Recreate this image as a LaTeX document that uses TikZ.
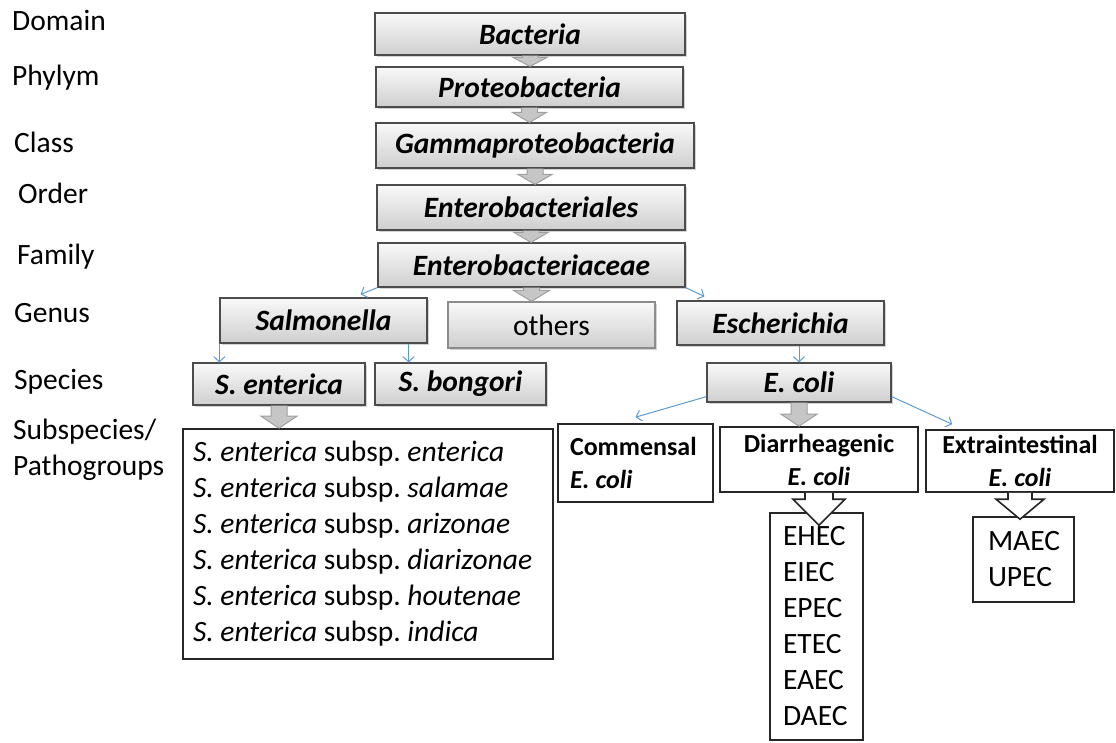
\documentclass[tikz,border=0pt]{standalone}
\usepackage{fontspec}
\setmainfont{Carlito}
\usetikzlibrary{shapes,arrows,arrows.meta,calc,shadows}
\definecolor{linkblue}{RGB}{91,155,213}
\newcommand{\lbl}{\fontsize{29.5}{36}\selectfont}
\newcommand{\sublbl}{\fontsize{26}{33}\selectfont}
\newcommand{\ecoli}{\textit{E.\hspace{0.23em}coli}}
\tikzstyle{rank} = [anchor=west, inner sep=0pt, align=left, font=\lbl]
\tikzstyle{taxon} = [draw=black!70, line width=1.2pt, rectangle, inner sep=0pt,
    top color=gray!5, bottom color=gray!38,
    drop shadow={shadow xshift=2pt, shadow yshift=-2pt, opacity=0.35},
    font=\lbl\bfseries\itshape]
\tikzstyle{group} = [draw=black!85, line width=1.6pt, fill=white, rectangle,
    align=left, font=\lbl,
    execute at begin node={\spaceskip=0pt\xspaceskip=0pt\frenchspacing}]
\tikzstyle{link} = [->, draw=linkblue, line width=1pt]
\tikzstyle{grayarrow} = [draw=gray!75, fill=gray!45, line width=1pt]
\tikzstyle{openarrow} = [draw=black!85, fill=white, line width=1.6pt]
\newcommand{\blockarrow}[6][grayarrow]{%
  \draw[#1] let \p1=(#2), \p2=(#2 |- #3) in
    (\x1-#4pt,\y1) -- (\x1-#4pt,\y2+#6pt) -- (\x1-#5pt,\y2+#6pt) -- (\x1,\y2)
    -- (\x1+#5pt,\y2+#6pt) -- (\x1+#4pt,\y2+#6pt) -- (\x1+#4pt,\y1);}

\begin{document}
\begin{tikzpicture}[x=1pt, y=-1pt, >={Straight Barb[length=5pt,width=11pt]}]
    \useasboundingbox (0,0) rectangle (1116,742);

    \node [rank] (domain) at (12,20) {Domain};
    \node [rank] (phylum) at (12,78) {Phylym};
    \node [rank] (class) at (14,142) {Class};
    \node [rank] (order) at (18,193) {Order};
    \node [rank] (family) at (17,257) {Family};
    \node [rank] (genus) at (14,313) {Genus};
    \node [rank] (species) at (14,382) {Species};
    \node [rank] (subsp) at (13,450) {Subspecies/\\Pathogroups};

    \node [taxon, minimum width=310pt, minimum height=42pt] (bac) at (530,34) {Bacteria};
    \node [taxon, minimum width=307pt, minimum height=40pt] (pro) at (529.5,87) {Proteobacteria};
    \node [taxon, minimum width=318pt, minimum height=45pt] (gam) at (535,145.5) {Gammaproteobacteria};
    \node [taxon, minimum width=308pt, minimum height=45pt] (ord) at (531,207.5) {Enterobacteriales};
    \node [taxon, minimum width=307pt, minimum height=44pt] (fam) at (531.5,265) {Enterobacteriaceae};

    \node [taxon, minimum width=207pt, minimum height=45pt] (sal) at (323.5,320.5) {Salmonella};
    \node [taxon, minimum width=207pt, minimum height=46pt, draw=black!45,
        font=\lbl] (oth) at (551.5,325) {others};
    \node [taxon, minimum width=207pt, minimum height=44pt] (esc) at (780.5,323) {Escherichia};

    \node [taxon, minimum width=172pt, minimum height=42pt] (sent) at (279,384) {S. enterica};
    \node [taxon, minimum width=171pt, minimum height=42pt] (sbon) at (460.5,384) {S. bongori};
    \node [taxon, minimum width=184pt, minimum height=39pt] (ecoli) at (799,382.5) {E. coli};

    \node [group, minimum width=370pt, minimum height=230pt, text width=350pt,
        inner xsep=10pt] (subs) at (368,544) {%
        \textit{S. enterica} subsp. \textit{enterica}\\
        \textit{S. enterica} subsp. \textit{salamae}\\
        \textit{S. enterica} subsp. \textit{arizonae}\\
        \textit{S. enterica} subsp. \textit{diarizonae}\\
        \textit{S. enterica} subsp. \textit{houtenae}\\
        \textit{S. enterica} subsp. \textit{indica}};

    \node [group, minimum height=78pt, text width=131pt, inner xsep=12pt,
        font=\sublbl\bfseries] (com) at (635.5,463) {Commensal\\\ecoli};
    \node [group, minimum height=65pt, text width=188pt, inner xsep=5pt,
        align=center, font=\sublbl\bfseries] (dia) at (819,459.5) {Diarrheagenic\\\ecoli};
    \node [group, minimum height=62pt, text width=180pt, inner xsep=4pt,
        align=center, font=\sublbl\bfseries] (ext) at (1020,461) {Extraintestinal\\\ecoli};

    \node [group, minimum height=227pt, text width=67pt, inner xsep=13pt] (path) at (816.5,626.5)
        {EHEC\\EIEC\\EPEC\\ETEC\\EAEC\\DAEC};
    \node [group, minimum height=85pt, text width=71pt, inner xsep=15pt] (exp) at (1023.5,559.5)
        {MAEC\\UPEC};

    \blockarrow{bac.south}{pro.north}{8}{17}{9}
    \blockarrow{pro.south}{gam.north}{8}{17}{10}
    \blockarrow{gam.south}{ord.north}{8}{17}{10}
    \blockarrow{ord.south}{fam.north}{8}{17}{10}
    \blockarrow{fam.south}{oth.north}{8}{18}{11}
    \blockarrow{sent.south}{subs.north}{8}{18}{12}
    \blockarrow{ecoli.south}{dia.north}{8}{18}{12}

    \coordinate (pathtip) at ([yshift=-13pt]path.north);
    \coordinate (exptip) at ([yshift=-3pt]exp.north);
    \blockarrow[openarrow]{dia.south}{pathtip}{14}{26}{26}
    \blockarrow[openarrow]{ext.south}{exptip}{12}{24}{20}

    \draw [link] (fam.south west) -- ([xshift=-67pt,yshift=3pt]sal.north east);
    \draw [link] (fam.south east) -- ([xshift=28pt,yshift=4pt]esc.north west);
    \draw [link] (sal.south west) -- (sal.south west |- sent.north);
    \draw [link] ([xshift=-19pt]sal.south east) -- ([xshift=-19pt]sal.south east |- sbon.north);
    \draw [link] (ecoli.north |- esc.south) -- (ecoli.north);
    \draw [link] ([yshift=6pt]ecoli.south west) -- ([yshift=6pt]com.north);
    \draw [link] ([yshift=6pt]ecoli.south east) -- ([xshift=27pt,yshift=5pt]ext.north west);
\end{tikzpicture}
\end{document}
